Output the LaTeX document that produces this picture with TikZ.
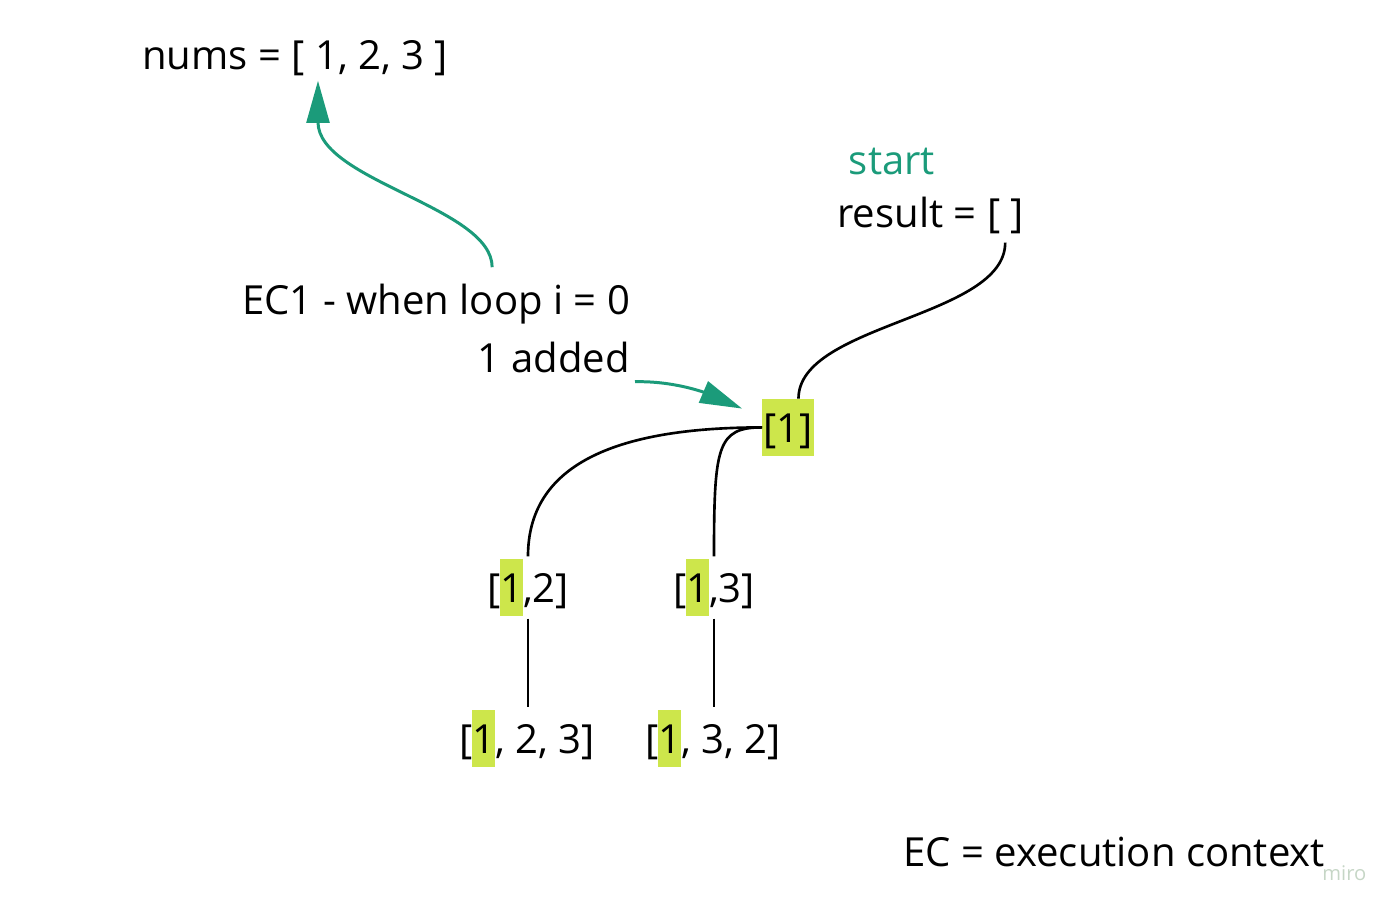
\documentclass[tikz,border=0pt]{standalone}
\usepackage{fontspec}
\setmainfont{Open Sans}
\usepackage{tikz}
\usetikzlibrary{positioning, arrows.meta, calc}
\definecolor{verde}{RGB}{27, 155, 122}
\definecolor{lima}{RGB}{205, 230, 75}
\definecolor{gris}{RGB}{198, 214, 198}
\newcommand{\marca}[1]{{\setlength{\fboxsep}{0pt}\colorbox{lima}{\rule[-7.9pt]{0pt}{32.4pt}#1}}}
\tikzset{
    texto/.style={inner sep=0pt, font=\fontsize{22.8}{27}\selectfont},
    caja/.style={texto, fill=lima, inner xsep=0.5pt, text height=24.5pt, text depth=7.9pt},
    lista/.style={texto, outer sep=1.5pt},
    conn/.style={-, black, line width=1.5pt},
    flecha/.style={-{Triangle[length=24pt, width=13pt]}, verde, line width=1.7pt},
}
\begin{document}
\begin{tikzpicture}[x=0.02cm, y=-0.02cm]
        \useasboundingbox (0,0) rectangle (1400,912);

        \node [texto, anchor=base west] (nums) at (142,70) {nums = [ 1, 2, 3 ]};
        \node [texto, anchor=base, text=verde] (start) at (892,175) {start};
        \node [texto, anchor=base west] (result) at (837,228) {result = [ ]};
        \node [texto, anchor=base west] (ec1) at (242,315) {EC1 - when loop i = 0};
        \node [texto, anchor=base east] (added) at (630,372) {1 added};

        \node [caja, anchor=base] (n1) at (788,442) {[1]};
        \node [lista, anchor=base] (n12) at (528,602) {[\marca{1},2]};
        \node [lista, anchor=base] (n13) at (714,602) {[\marca{1},3]};
        \node [lista, anchor=base] (n123) at (527,753) {[\marca{1}, 2, 3]};
        \node [lista, anchor=base] (n132) at (713,753) {[\marca{1}, 3, 2]};

        \node [texto, anchor=base west] (ec) at (903,866) {EC = execution context};
        \node [texto, anchor=base west, font=\fontsize{11.5}{14}\selectfont, text=gris] (miro) at (1322,880) {miro};

        \draw[flecha] ($(ec1.north)+(56,-17)$) .. controls +(0,-60) and +(0,100) .. ($(nums.south west)+(176,4)$);
        \draw[flecha] ($(added.south east)+(5,9)$) .. controls +(40,-1) and +(-35,-15) .. ($(n1.north west)+(-20,10)$);

        \draw[conn] ($(result.south east)+(-19,8)$) .. controls +(0,75) and +(0,-75) .. (n1.70);
        \draw[conn] (n1.west) .. controls +(-150,0) and +(0,-90) .. (n12.north);
        \draw[conn] (n1.west) .. controls +(-45,0) and +(0,-110) .. (n13.north);

        \draw[conn] (n12.south) -- (n12.south |- n123.north);
        \draw[conn] (n13.south) -- (n13.south |- n132.north);
\end{tikzpicture}
\end{document}
